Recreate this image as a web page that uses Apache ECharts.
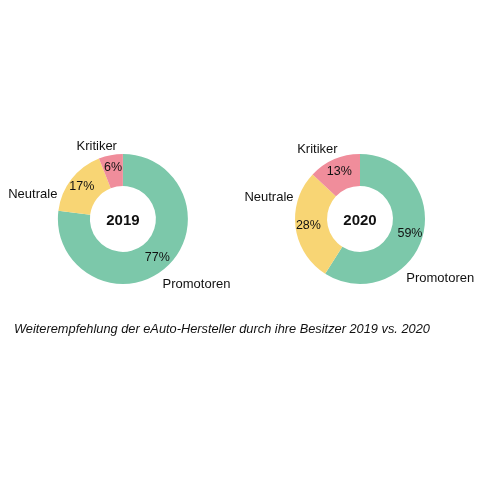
<!DOCTYPE html>
<html>
<head>
<meta charset="utf-8">
<script src="https://cdn.jsdelivr.net/npm/echarts@6/dist/echarts.min.js"></script>
<style>
  html, body { margin: 0; padding: 0; background: #fff; }
  #chart { width: 480px; height: 480px; }
</style>
</head>
<body>
<div id="chart"></div>
<script>
// Kategorien und Werte (Prozent)
var categories = ['Promotoren', 'Neutrale', 'Kritiker'];
var years = ['2019', '2020'];
var values2019 = [77, 17, 6];
var values2020 = [59, 28, 13];
var colors = ['#7cc8aa', '#f8d574', '#f08d9b'];
var caption = 'Weiterempfehlung der eAuto-Hersteller durch ihre Besitzer 2019 vs. 2020';

// Feinverschiebung der Kategorienamen (wie "beste Anpassung" im Original)
var nameShift = [
    [[-6, 14], [-11, 18], [7, -5]],
    [[-20, 40], [2, -30], [5, -6]]
];

var centers = [['25.6%', '45.6%'], ['75%', '45.6%']];
var font = 'Liberation Sans, Arial, sans-serif';

function makeData(vals, fill, shift) {
    var d = [];
    for (var i = 0; i < categories.length; i++) {
        var item = { name: categories[i], value: vals[i], itemStyle: { color: fill || colors[i] } };
        if (shift) item.label = { offset: shift[i] };
        d.push(item);
    }
    return d;
}

var series = [];
[values2019, values2020].forEach(function (vals, k) {
    // Ring mit Prozentwerten
    series.push({
        type: 'pie',
        center: centers[k],
        radius: [33, 65],
        startAngle: 90,
        silent: true,
        avoidLabelOverlap: false,
        data: makeData(vals),
        label: {
            position: 'inside',
            formatter: '{c}%',
            color: '#111',
            fontSize: 12.5,
            fontFamily: font
        },
        labelLine: { show: false }
    });
    // unsichtbarer Ring nur fuer die Kategorienamen
    series.push({
        type: 'pie',
        center: centers[k],
        radius: [33, 65],
        startAngle: 90,
        silent: true,
        avoidLabelOverlap: false,
        data: makeData(vals, 'transparent', nameShift[k]),
        label: {
            position: 'outside',
            alignTo: 'none',
            edgeDistance: 2,
            overflow: 'none',
            formatter: '{b}',
            color: '#111',
            fontSize: 13,
            fontFamily: font,
            distanceToLabelLine: 0
        },
        labelLine: { show: false, length: 4, length2: 0 }
    });
});

var option = {
    backgroundColor: '#ffffff',
    animation: false,
    title: [
        { text: years[0], left: '25.6%', top: '46%', textAlign: 'center', textVerticalAlign: 'middle', padding: 0,
          textStyle: { fontSize: 15, fontWeight: 'bold', color: '#111', fontFamily: font } },
        { text: years[1], left: '75%', top: '46%', textAlign: 'center', textVerticalAlign: 'middle', padding: 0,
          textStyle: { fontSize: 15, fontWeight: 'bold', color: '#111', fontFamily: font } },
        { text: caption, left: 14, top: 323, padding: 0,
          textStyle: { fontSize: 12.8, fontStyle: 'italic', fontWeight: 'normal', color: '#111', fontFamily: font } }
    ],
    series: series
};

var chart = echarts.init(document.getElementById('chart'));
chart.setOption(option);
</script>
</body>
</html>
